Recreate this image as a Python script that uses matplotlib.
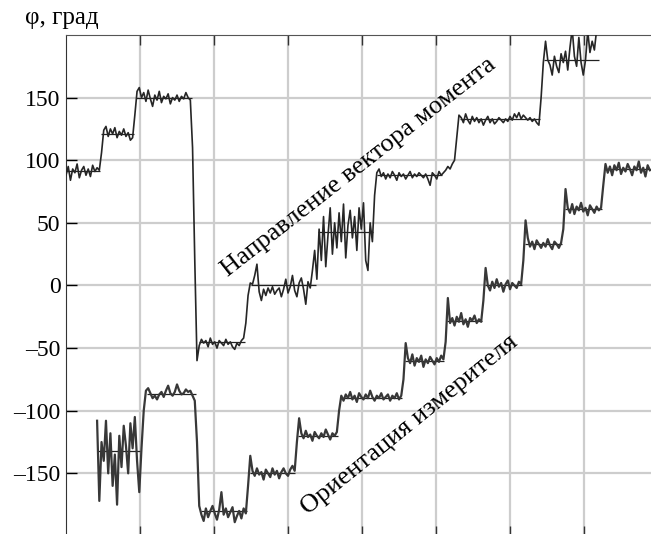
import numpy as np
import matplotlib
matplotlib.use('Agg')
import matplotlib.pyplot as plt

plt.rcParams['font.family'] = ['Liberation Serif', 'DejaVu Serif']

STEP = 0.03

# направление вектора момента (samples every STEP, starting at x=0)
moment_x0 = 0.0
moment_y = (
    [88, 95, 84, 93, 90, 97, 86, 92, 95, 88, 93, 87, 96, 91, 94, 92]
    + [106, 124]
    + [127, 119, 125, 121, 126, 118, 123, 120, 125, 119, 122, 116, 118]
    + [136]
    + [155, 158, 150, 154, 147, 156, 149, 143, 152, 148, 155, 146, 151, 149, 153,
       145, 150, 148, 152, 147, 151, 149, 154, 150, 148]
    + [110, 20, -60]
    + [-48, -43, -46, -44, -49, -42, -47, -45, -50, -44, -46, -48, -43, -47, -45,
       -49, -51, -46, -48, -44, -42]
    + [-30, -8]
    + [2, 1, 8, 17, -5, -12, -3, -8, -2, -6, -1, -7, -4, -2, -9, -3, 5, -6, -1, 8,
       -4, -9, 2, 6, -3, -15, 3, -2, 12]
    + [28, 5, 45, 20, 55, 15, 40, 62, 25, 50, 30, 58, 35, 65, 22, 48, 60, 38, 55,
       28, 62, 45, 66, 20, 12, 50, 35]
    + [72, 90]
    + [93, 87, 90, 85, 89, 86, 91, 88, 84, 90, 87, 89, 85, 88, 91, 86, 89, 87, 90,
       88, 86, 89, 85, 80, 90, 88, 85, 91, 88]
    + [90, 92, 95, 93, 97, 100]
    + [118, 136]
    + [134, 130, 137, 132, 129, 135, 131, 134, 130, 133, 128, 132, 135, 130, 133,
       129, 131, 134, 132, 130, 133, 131, 135, 132, 137, 134, 138, 133, 136, 134,
       132, 134, 131, 133, 130, 128]
    + [150, 178]
    + [195, 180, 176, 168, 183, 175, 170, 185, 178, 187, 172, 190, 205, 183, 175,
       198, 178, 168, 180, 203, 186, 195, 188, 204, 210]
)

# ориентация измерителя (samples every STEP, starting at x=0.42)
orient_x0 = 0.42
orient_y = (
    [-108, -172, -125, -140, -108, -150, -118, -160, -135, -175, -120, -145,
     -112, -128, -150, -110, -130, -105, -140, -165]
    + [-130, -100, -84]
    + [-82, -86, -90, -88, -91, -87, -85, -89, -84, -80, -86, -88, -85, -79, -84,
       -87, -86, -83, -85, -84, -88, -92]
    + [-125, -176]
    + [-183, -188, -178, -185, -180, -176, -182, -187, -179, -165, -183, -178,
       -185, -181, -177, -189, -184, -180, -186, -178, -182]
    + [-160]
    + [-136, -148, -152, -146, -151, -149, -155, -147, -150, -153, -146, -151,
       -148, -154, -149, -146, -150, -152, -147, -144, -148]
    + [-125]
    + [-106, -118, -122, -116, -121, -119, -124, -117, -120, -122, -118, -121,
       -115, -119, -123, -118, -120, -117]
    + [-100]
    + [-88, -92, -87, -90, -85, -91, -88, -93, -86, -89, -91, -87, -90, -84, -89,
       -92, -88, -90, -86, -91, -89, -87, -92, -88, -90, -86, -91, -88]
    + [-75]
    + [-46, -58, -62, -55, -64, -58, -61, -56, -65, -59, -62, -57, -60, -63, -58,
       -61, -56, -59]
    + [-45]
    + [-10, -30, -26, -32, -25, -29, -22, -31, -27, -33, -26, -28, -24, -30, -27, -29]
    + [-12]
    + [14, 0, -4, 3, -2, 5, -1, 2, -5, 1, 4, -3, 2, 0, -2, 3, 1]
    + [20]
    + [52, 38, 31, 35, 29, 36, 33, 30, 34, 31, 37, 32, 29, 35, 33, 30, 34]
    + [45]
    + [77, 62, 58, 65, 57, 63, 60, 66, 59, 62, 56, 64, 61, 58, 63, 60, 62]
    + [80]
    + [97, 90, 95, 88, 96, 92, 98, 89, 94, 91, 97, 93, 88, 95, 92, 99, 90, 94, 87,
       96, 92]
)

# step levels (start, end, level)
moment_steps = [(0.0, 0.46, 91), (0.47, 0.92, 121), (0.95, 1.70, 150),
                (1.80, 2.42, -45), (2.50, 3.38, 0), (3.40, 4.15, 43),
                (4.20, 5.08, 88), (5.33, 6.40, 133), (6.46, 7.20, 180)]
orient_steps = [(0.42, 1.00, -132), (1.10, 1.75, -87), (1.82, 2.44, -180),
                (2.48, 3.10, -150), (3.14, 3.68, -120), (3.72, 4.54, -90),
                (4.58, 5.11, -60), (5.15, 5.62, -28), (5.66, 6.16, 0),
                (6.20, 6.70, 33), (6.74, 7.24, 61), (7.28, 7.90, 93)]

yticks = [-150, -100, -50, 0, 50, 100, 150]
ylabels = ['\u2013150', '\u2013100', '\u201350', '0', '50', '100', '150']
xticks = [1, 2, 3, 4, 5, 6, 7]

fig = plt.figure(figsize=(6.51, 5.34), dpi=100)
ax = fig.add_axes([0.1014, -0.0037, 0.8986, 0.9382])

mx = moment_x0 + STEP * np.arange(len(moment_y))
ox = orient_x0 + STEP * np.arange(len(orient_y))

for s in moment_steps + orient_steps:
    ax.hlines(s[2], s[0], s[1], color='#222222', lw=0.9, zorder=3)
ax.plot(mx, moment_y, color='#262626', lw=1.2, zorder=4)
ax.plot(ox, orient_y, color='#383838', lw=1.6, zorder=4)

ax.set_xlim(0, 7.905)
ax.set_ylim(-200, 200)
ax.set_xticks(xticks)
ax.set_yticks(yticks)
ax.set_yticklabels(ylabels)
ax.set_xticklabels([])
ax.grid(True, color='#cdcdcd', lw=1.6, zorder=0)
ax.set_axisbelow(True)
ax.tick_params(axis='x', direction='in', length=7, width=1, top=True, bottom=True, color='#333333')
ax.tick_params(axis='y', direction='in', length=8, width=1, labelsize=17, pad=4)
ax.spines['right'].set_visible(False)
ax.spines['bottom'].set_visible(False)
ax.spines['top'].set_color('#555555')
ax.spines['left'].set_color('#333333')

fig.text(0.038, 0.955, 'φ, град', fontsize=18, ha='left', va='baseline')

ax.text(3.95, 94, 'Направление вектора момента', fontsize=19, rotation=38,
        ha='center', va='center', rotation_mode='anchor')
ax.text(4.65, -111, 'Ориентация измерителя', fontsize=19, rotation=39,
        ha='center', va='center', rotation_mode='anchor')

fig.savefig('out.png', dpi=100)
